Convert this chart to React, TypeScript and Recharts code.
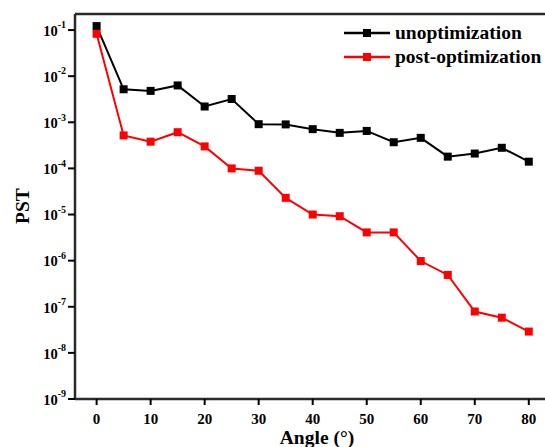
import { LineChart, Line, XAxis, YAxis, ReferenceLine } from 'recharts'

const angles = [0, 5, 10, 15, 20, 25, 30, 35, 40, 45, 50, 55, 60, 65, 70, 75, 80]
const unoptimization = [0.122, 5.2e-3, 4.8e-3, 6.3e-3, 2.2e-3, 3.2e-3, 9.1e-4, 9.0e-4, 7.1e-4, 5.9e-4, 6.5e-4, 3.7e-4, 4.6e-4, 1.8e-4, 2.1e-4, 2.8e-4, 1.4e-4]
const postOptimization = [8.3e-2, 5.2e-4, 3.8e-4, 6.1e-4, 3.0e-4, 1.0e-4, 8.9e-5, 2.3e-5, 1.0e-5, 9.2e-6, 4.1e-6, 4.1e-6, 9.8e-7, 4.9e-7, 7.9e-8, 5.8e-8, 2.9e-8]
const xTicks = [0, 10, 20, 30, 40, 50, 60, 70, 80]
const yTicks = [1e-9, 1e-8, 1e-7, 1e-6, 1e-5, 1e-4, 1e-3, 1e-2, 1e-1]

const xDomain = [-4, 83]
const yDomain = [1e-9, 0.223]

const seriesInfo = [
    { key: 'unopt', name: 'unoptimization', color: '#000000' },
    { key: 'post', name: 'post-optimization', color: '#ff0000' },
]

const data = angles.map((a, i) => ({ angle: a, unopt: unoptimization[i], post: postOptimization[i] }))

const FONT = '"Liberation Serif", "Times New Roman", serif'
const FRAME = '#2a2a2a'

const YTick = ({ x, y, payload }: any) => {
    const exp = Math.round(Math.log10(payload.value))
    return (
        <text x={x} y={y} textAnchor="end" fontFamily={FONT} fontWeight="bold" fill="#000">
            <tspan fontSize={14.5} dy="0.4em">10</tspan>
            <tspan fontSize={10} dy="-0.75em">{exp}</tspan>
        </text>
    )
}

const Square = ({ cx, cy, fill }: any) => (
    <rect x={cx - 4} y={cy - 4} width={8} height={8} fill={fill} />
)

// legend drawn as an overlay, so it doesn't steal plot height
const LegendBox = () => (
    <svg width={205} height={50} style={{ position: 'absolute', left: 340, top: 20 }}>
        {seriesInfo.map((s, i) => {
            const y = 13 + i * 24
            return (
                <g key={s.key}>
                    <line x1={4} x2={50} y1={y} y2={y} stroke={s.color} strokeWidth={2.5} />
                    <rect x={23} y={y - 4} width={8} height={8} fill={s.color} />
                    <text x={55} y={y + 6} fontSize={19.5} fontFamily={FONT} fontWeight="bold" fill="#000">{s.name}</text>
                </g>
            )
        })}
    </svg>
)

export default function App() {
    return (
        <div style={{ position: 'absolute', left: 0, top: 0, width: 545, height: 447, background: '#fff' }}>
            <LineChart width={545} height={447} data={data} margin={{ top: 14, right: 0, bottom: 0, left: 0 }}>
                <XAxis
                    dataKey="angle"
                    type="number"
                    domain={xDomain}
                    ticks={xTicks}
                    allowDataOverflow
                    height={48}
                    tickSize={6}
                    tickMargin={8}
                    stroke={FRAME}
                    axisLine={{ stroke: FRAME, strokeWidth: 2.5 }}
                    tickLine={{ stroke: '#000', strokeWidth: 2 }}
                    tick={{ fill: '#000', fontSize: 15, fontFamily: FONT, fontWeight: 'bold' }}
                    label={{
                        content: () => (
                            <text x={317} y={444} textAnchor="middle" fontSize={19.5} fontFamily={FONT} fontWeight="bold" fill="#000">Angle (°)</text>
                        )
                    }}
                />
                <YAxis
                    scale="log"
                    type="number"
                    domain={yDomain}
                    ticks={yTicks}
                    allowDataOverflow
                    width={75}
                    tickSize={7}
                    tickMargin={2}
                    axisLine={{ stroke: FRAME, strokeWidth: 2.5 }}
                    tickLine={{ stroke: '#000', strokeWidth: 2 }}
                    tick={<YTick />}
                    label={{
                        content: () => (
                            <text x={29} y={206} transform="rotate(-90 29 206)" textAnchor="middle" fontSize={19.5} fontFamily={FONT} fontWeight="bold" fill="#000">PST</text>
                        )
                    }}
                />
                {/* top border of the frame */}
                <ReferenceLine y={yDomain[1]} stroke={FRAME} strokeWidth={2.5} />
                {seriesInfo.map((s) => (
                    <Line
                        key={s.key}
                        dataKey={s.key}
                        name={s.name}
                        stroke={s.color}
                        strokeWidth={2}
                        dot={<Square fill={s.color} />}
                        activeDot={false}
                        isAnimationActive={false}
                    />
                ))}
            </LineChart>
            <LegendBox />
        </div>
    )
}
